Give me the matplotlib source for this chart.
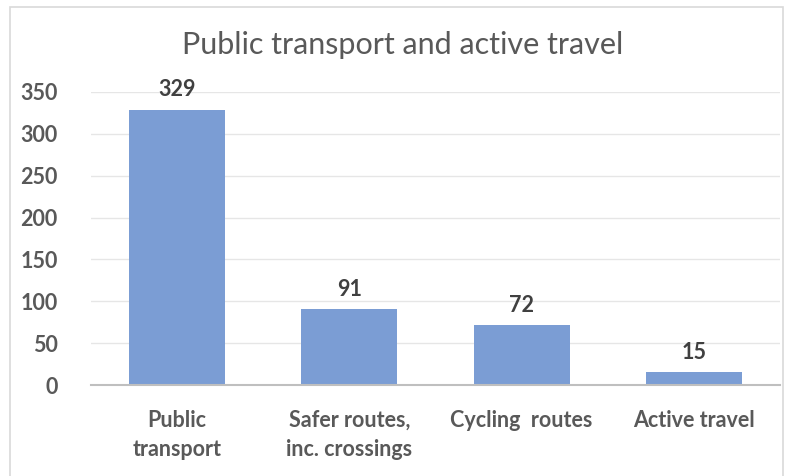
import numpy as np
import matplotlib.pyplot as plt
from matplotlib.patches import Rectangle

plt.rcParams['font.family'] = ['Lato', 'DejaVu Sans']

categories = ['Public\ntransport', 'Safer routes,\ninc. crossings', 'Cycling  routes', 'Active travel']
counts = [329, 91, 72, 15]
yticks = [0, 50, 100, 150, 200, 250, 300, 350]

W, H = 793, 476
fig = plt.figure(figsize=(W / 100, H / 100), dpi=100)
ax = fig.add_axes([91 / W, 1 - 385 / H, (780 - 91) / W, (385 - 92) / H])

# outer chart border
fig.patches.append(Rectangle((10 / W, -0.1), (783 - 10) / W, 1.1 - 7 / H,
                             transform=fig.transFigure, fill=False,
                             edgecolor='#d9d9d9', lw=1.2))

x = np.arange(len(categories))
bars = ax.bar(x, counts, width=0.556, color='#7b9dd4', zorder=2)

for xi, v in zip(x, counts):
    ax.text(xi, v + 11, str(v), ha='center', va='bottom', fontsize=15.5,
            fontweight='bold', color='#404040')

ax.set_xlim(-0.5, len(categories) - 0.5)
ax.set_ylim(0, 350)
ax.set_yticks(yticks)
ax.set_yticklabels([str(t) for t in yticks], fontsize=15.5, fontweight='bold', color='#595959')
ax.set_xticks(x)
ax.set_xticklabels(categories, fontsize=15.5, fontweight='bold', color='#595959', linespacing=1.45)
ax.tick_params(axis='both', length=0)
ax.tick_params(axis='x', pad=18)
ax.tick_params(axis='y', pad=24)

ax.grid(axis='y', color='#e6e6e6', lw=1, zorder=0)
for s in ['top', 'right', 'left']:
    ax.spines[s].set_visible(False)
ax.spines['bottom'].set_color('#bfbfbf')
ax.spines['bottom'].set_linewidth(1.5)

fig.text(403 / W, 1 - 45 / H, 'Public transport and active travel', ha='center', va='center',
         fontsize=22, color='#595959')

fig.savefig('out.png', dpi=100)
